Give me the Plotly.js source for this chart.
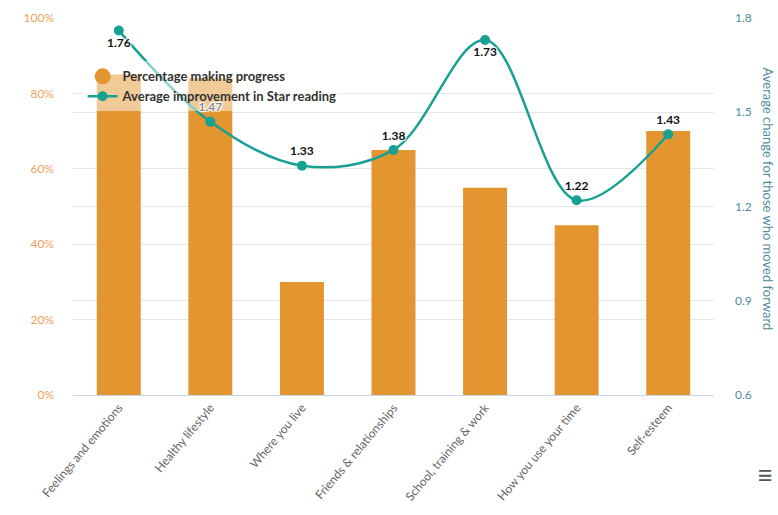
<!DOCTYPE html>
<html><head><meta charset="utf-8">
<script src="https://cdn.plot.ly/plotly-3.0.1.min.js"></script>
<style>html,body{margin:0;padding:0;background:#fff}#chart{width:778px;height:515px}</style>
</head><body><div id="chart"></div>
<script>
const categories = ["Feelings and emotions","Healthy lifestyle","Where you live","Friends & relationships","School, training & work","How you use your time","Self-esteem"];
const percentProgress = [85, 84, 30, 65, 55, 45, 70];
const avgImprovement = [1.76, 1.47, 1.33, 1.38, 1.73, 1.22, 1.43];
const labelPositions = ["bottom center","top center","top center","top center","bottom center","top center","top center"];
const leftTicks = [0, 20, 40, 60, 80, 100];
const leftTickText = ["0%","20%","40%","60%","80%","100%"];
const rightTicks = [0.6, 0.9, 1.2, 1.5, 1.8];

const barColor = "#e3962f";
const lineColor = "#17a192";

const traces = [
  {type:"bar", x:categories, y:percentProgress, marker:{color:barColor}, width:0.48,
   name:"Percentage making progress", showlegend:false, hoverinfo:"y"},
  {type:"scatter", mode:"markers", x:[null], y:[null], name:"Percentage making progress",
   marker:{color:barColor, size:16, symbol:"circle"}, showlegend:true},
  {type:"scatter", mode:"lines+markers+text", x:categories, y:avgImprovement, yaxis:"y2",
   name:"Average improvement in Star reading",
   line:{color:lineColor, width:2.5, shape:"spline", smoothing:1},
   marker:{color:lineColor, size:10},
   text:avgImprovement.map(v=>v.toFixed(2)), textposition:labelPositions,
   textfont:{family:"Lato, sans-serif", size:12, color:"#111", weight:"bold",
     shadow:"1px 1px 1px #fff, -1px -1px 1px #fff, 1px -1px 1px #fff, -1px 1px 1px #fff"},
   cliponaxis:false}
];

const layout = {
  width:778, height:515,
  margin:{l:73, r:64, t:18, b:120},
  paper_bgcolor:"#fff", plot_bgcolor:"#fff",
  font:{family:"Lato, sans-serif", color:"#666"},
  bargap:0.52,
  xaxis:{tickangle:-50, tickfont:{size:12, color:"#666"}, showline:true, linecolor:"#ccd6eb",
    linewidth:1, ticks:"", showgrid:false, zeroline:false},
  yaxis:{range:[0,100], tickvals:leftTicks, ticktext:leftTickText, tickfont:{size:12, color:"#f0a25a"},
    gridcolor:"#e6e6e6", zeroline:false, ticklabelstandoff:18},
  yaxis2:{range:[0.6,1.8], tickvals:rightTicks, ticktext:rightTicks.map(v=>v.toFixed(1)), overlaying:"y", side:"right",
    tickfont:{size:12, color:"#4f8b9b"}, gridcolor:"#e6e6e6", zeroline:false, ticklabelstandoff:20, showline:false},
  legend:{x:0.015, y:0.885, xanchor:"left", yanchor:"top", bgcolor:"rgba(255,255,255,0.5)",
    font:{size:13, color:"#333", weight:"bold"}, tracegroupgap:0, itemsizing:"trace"},
  annotations:[
    {text:"Average change for those who moved forward", xref:"paper", yref:"paper", x:1.085, y:0.52,
     xanchor:"center", yanchor:"middle", textangle:90, showarrow:false, font:{size:13, color:"#4f8b9b"}},
    {text:"≡", xref:"paper", yref:"paper", x:1.095, y:-0.26, showarrow:false, font:{size:28, color:"#555"}}
  ]
};

Plotly.newPlot("chart", traces, layout, {displayModeBar:false});
</script></body></html>
